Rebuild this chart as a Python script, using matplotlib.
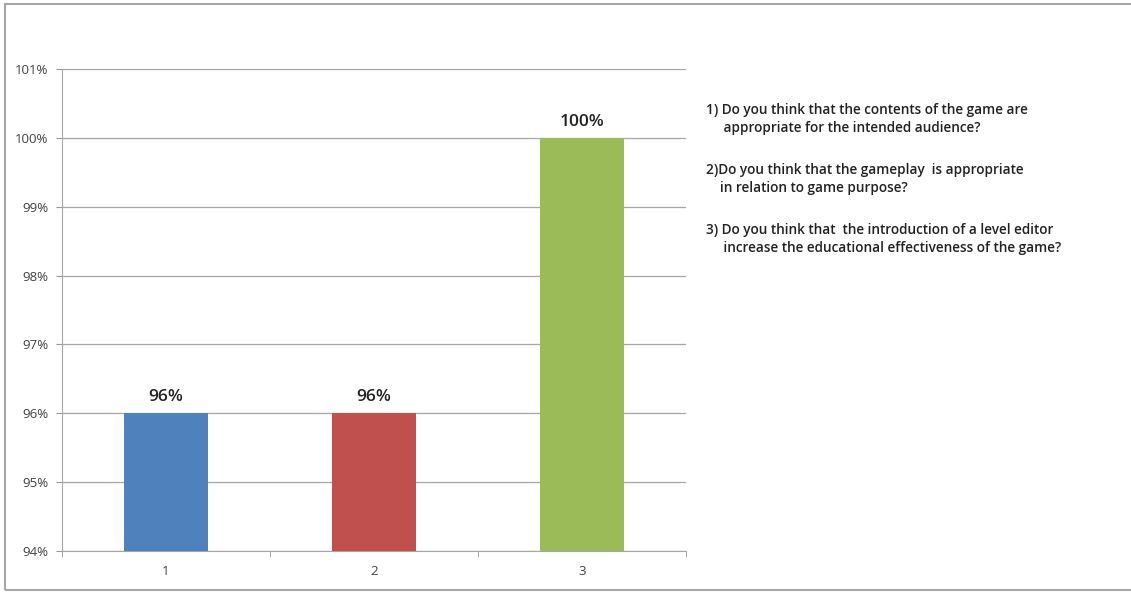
import matplotlib.pyplot as plt
from matplotlib.patches import Rectangle

categories = ['1', '2', '3']
values = [96, 96, 100]
bar_labels = ['96%', '96%', '100%']
colors = ['#4f81bd', '#c0504d', '#9bbb59']
y_ticks = [94, 95, 96, 97, 98, 99, 100, 101]
questions = [
    "1) Do you think that the contents of the game are\n     appropriate for the intended audience?",
    "2)Do you think that the gameplay  is appropriate\n    in relation to game purpose?",
    "3) Do you think that  the introduction of a level editor\n     increase the educational effectiveness of the game?",
]

plt.rcParams['font.family'] = ['Open Sans', 'DejaVu Sans']

fig = plt.figure(figsize=(11.31, 5.92), dpi=100)
fig.patches.append(Rectangle((5 / 1131, 2 / 592), 1.2, 586 / 592, transform=fig.transFigure,
                             fill=False, edgecolor='#a6a6a6', linewidth=1.5))

ax = fig.add_axes([62 / 1131, 1 - 551 / 592, 624 / 1131, 482 / 592])
x = range(1, len(values) + 1)
ax.bar(x, values, width=0.4, color=colors, zorder=3)
ax.set_xlim(0.5, 3.5)
ax.set_ylim(94, 101)
ax.set_yticks(y_ticks)
ax.set_yticklabels([f'{v}%' for v in y_ticks], fontsize=9.5, color='#404040')
ax.set_xticks(list(x))
ax.set_xticklabels(categories, fontsize=9.5, color='#404040')
ax.tick_params(axis='x', length=0, pad=10)
ax.tick_params(axis='y', length=4, color='#999999', pad=6)
ax.set_xticks([0.5, 1.5, 2.5, 3.5], minor=True)
ax.tick_params(axis='x', which='minor', length=4, color='#999999')
ax.grid(axis='y', color='#a6a6a6', linewidth=0.9, zorder=0)
for side in ['top', 'right']:
    ax.spines[side].set_visible(False)
for side in ['left', 'bottom']:
    ax.spines[side].set_color('#a6a6a6')

for xi, v, lab in zip(x, values, bar_labels):
    ax.annotate(lab, (xi, v), xytext=(0, 6), textcoords='offset points',
                ha='center', va='bottom', fontsize=12.5, fontweight='semibold', color='#222222')

q_y = [103 / 592, 163 / 592, 223 / 592]
for q, yy in zip(questions, q_y):
    fig.text(706 / 1131, 1 - yy, q, fontsize=9.8, fontweight='semibold', color='#222222',
             va='top', ha='left', linespacing=1.35)

fig.savefig('out.png', dpi=100)
